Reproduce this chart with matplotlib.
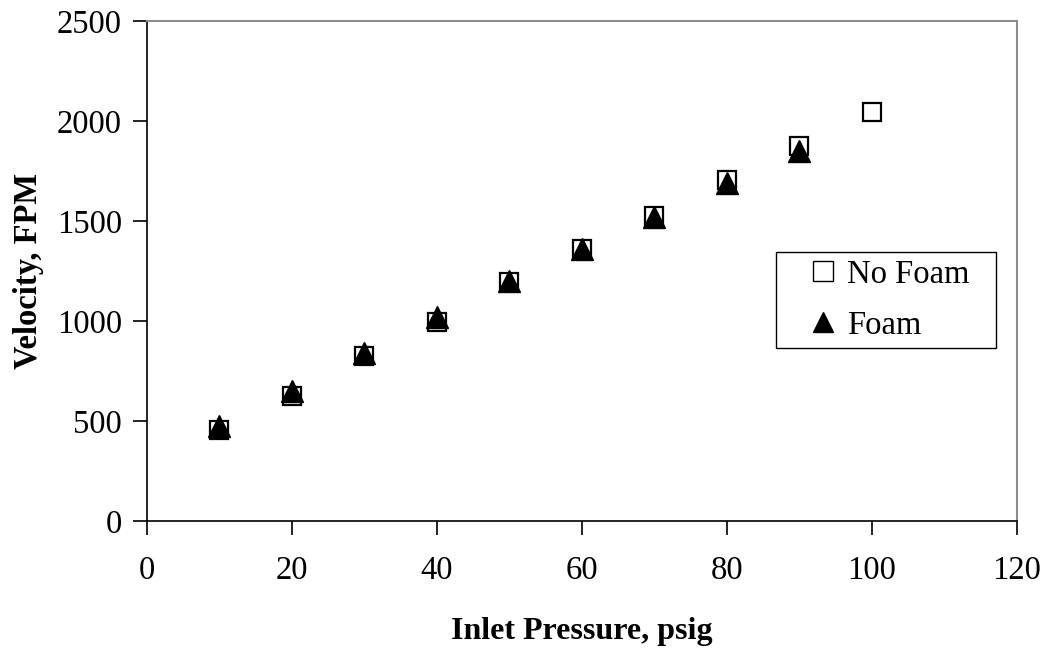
import numpy as np
import matplotlib.pyplot as plt
from matplotlib.patches import Rectangle

pressure = [10, 20, 30, 40, 50, 60, 70, 80, 90, 100]
no_foam = [455, 627, 826, 997, 1195, 1358, 1523, 1703, 1877, 2045]
foam_pressure = [10, 20, 30, 40, 50, 60, 70, 80, 90]
foam = [475, 650, 840, 1020, 1200, 1360, 1520, 1690, 1852]

plt.rcParams["font.family"] = ["Liberation Serif", "DejaVu Serif"]

fig = plt.figure(figsize=(10.47, 6.49), dpi=100)
ax = fig.add_axes([0.1404, 0.1972, 0.8309, 0.7704])

ax.plot(pressure, no_foam, ls="none", marker="s", ms=13, mfc="white",
        mec="black", mew=1.6, label="No Foam")
ax.plot(foam_pressure, foam, ls="none", marker="^", ms=16, mfc="black",
        mec="black", mew=1.0, label="Foam")

ax.set_xlim(0, 120)
ax.set_ylim(0, 2500)
ax.set_xticks(np.arange(0, 121, 20))
ax.set_yticks(np.arange(0, 2501, 500))
ax.tick_params(direction="out", length=10, width=1.2, labelsize=23.5,
               colors="black")
ax.tick_params(axis="x", pad=15)
ax.tick_params(axis="y", pad=8)

for side in ["top", "right"]:
    ax.spines[side].set_color("#8c8c8c")
    ax.spines[side].set_linewidth(1.5)
for side in ["left", "bottom"]:
    ax.spines[side].set_color("black")
    ax.spines[side].set_linewidth(1.2)

ax.set_xlabel("Inlet Pressure, psig", fontsize=23, fontweight="bold",
              labelpad=22)
ax.set_ylabel("Velocity, FPM", fontsize=23.5, fontweight="bold", labelpad=9)

# legend box drawn separately so it keeps the reference size
ax.add_patch(Rectangle((0.7412, 0.4638), 0.2101, 0.1479,
                       transform=fig.transFigure, clip_on=False,
                       facecolor="white", edgecolor="black", lw=1.0,
                       zorder=5))
leg = ax.legend(loc="center left", bbox_to_anchor=(0.7705, 0.5378),
                bbox_transform=fig.transFigure, fontsize=23.5, frameon=False,
                borderpad=0, handletextpad=0.24, handlelength=1.0,
                labelspacing=0.62, borderaxespad=0)
leg.set_zorder(6)
for h in leg.legend_handles:
    h.set_markersize(14)
    h.set_markeredgewidth(1.0)

fig.savefig("out.png", dpi=100)
